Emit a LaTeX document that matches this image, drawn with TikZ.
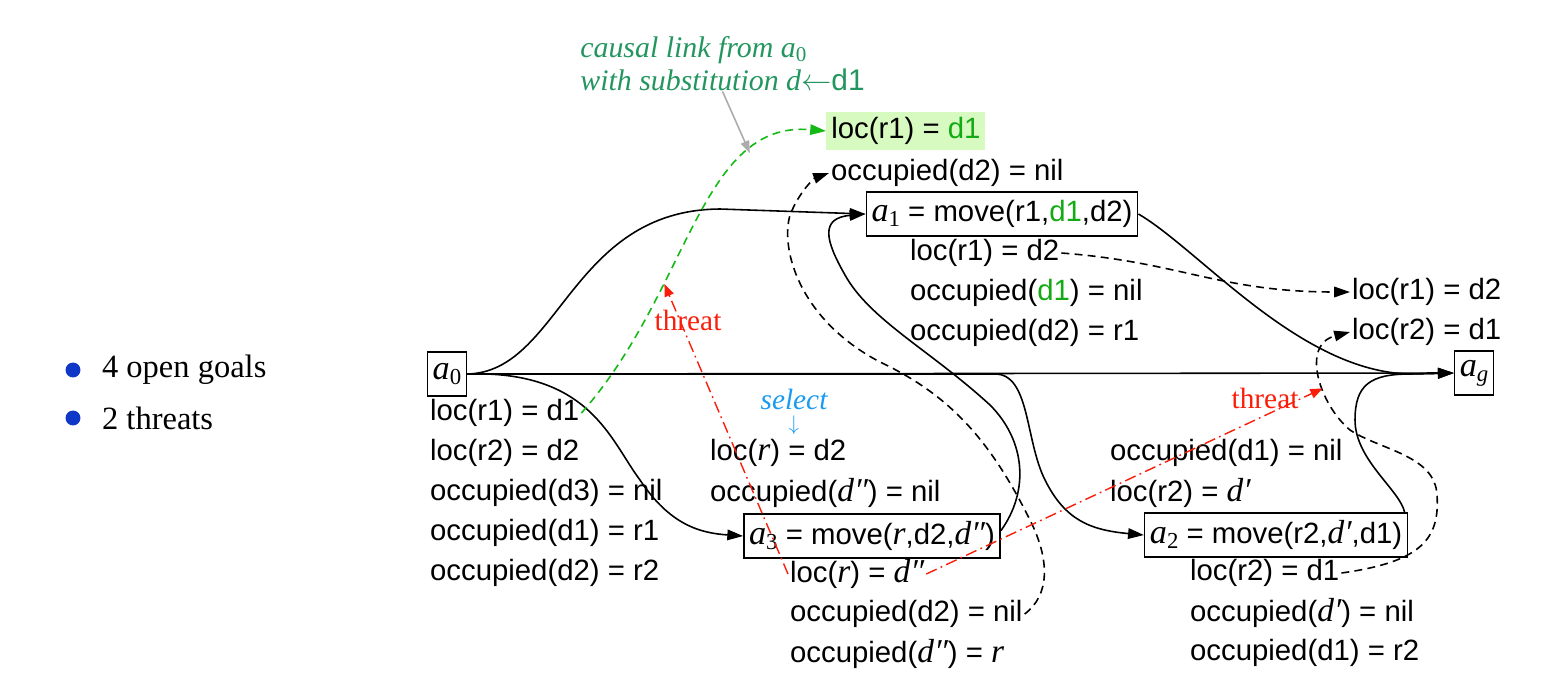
\documentclass[tikz,border=0pt]{standalone}
\usepackage{fontspec}
\setmainfont{Liberation Sans}
\newfontfamily\tms{Liberation Serif}
\usetikzlibrary{arrows.meta}
\definecolor{dgreen}{RGB}{20,170,20}
\definecolor{hlgreen}{RGB}{214,250,192}
\definecolor{cgreen}{RGB}{35,150,95}
\definecolor{lgreen}{RGB}{20,185,20}
\definecolor{tred}{RGB}{250,30,10}
\definecolor{sblue}{RGB}{25,155,240}
\definecolor{bblue}{RGB}{15,55,200}
\newcommand{\act}[1]{{\tms\itshape\fontsize{19.5}{20}\selectfont a%
    \raisebox{-0.3ex}{\fontsize{13}{13}\selectfont\upshape #1}}}
\newcommand{\vn}[1]{{\tms\itshape\fontsize{19}{20}\selectfont #1}}

\begin{document}
\begin{tikzpicture}[x=0.02cm,y=-0.02cm,
    fact/.style={anchor=west,inner sep=1pt},
    actbox/.style={draw,line width=0.8pt,inner sep=3pt,minimum height=25pt},
    arr/.style={line width=0.9pt,-{Triangle[length=9pt,width=6pt]}},
    dasharr/.style={arr,dash pattern=on 4.5pt off 3pt},
    linkarr/.style={dasharr,lgreen},
    threatarr/.style={tred,line width=0.8pt,dash pattern=on 6.5pt off 2.5pt on 1pt off 2.5pt,
        -{Triangle[length=7pt,width=5.5pt]}}]
\fontsize{16.7}{20}\selectfont
\useasboundingbox (0,0) rectangle (1550,691);
% Flaws of the plan
\foreach \t [count=\i] in {4 open goals, 2 threats}
{
        \node[circle,fill=bblue,inner sep=0pt,minimum size=8.5pt] (b\i) at (73,322+48*\i) {};
        \node[anchor=west,inner sep=1pt,font=\tms\fontsize{18.5}{22}\selectfont]
        (t\i) at (100,322+48*\i) {\t};
}
% Actions
\node[actbox,minimum width=22pt] (a0) at (447,374) {\act{0}};
\node[actbox,minimum width=22pt] (ag) at (1474,373) {\act{\itshape g}};
\node[actbox] (a1) at (1002,214) {\act{1} = move(r1,\textcolor{dgreen}{d1},d2)};
\node[actbox] (a3) at (872,536) {\act{3} = move(\vn{r},d2,\vn{d″})};
\node[actbox] (a2) at (1276,535) {\act{2} = move(r2,\vn{d′},d1)};
% Effects of a0
\foreach \t [count=\i] in {loc(r1) = d1, loc(r2) = d2, occupied(d3) = nil,
        occupied(d1) = r1, occupied(d2) = r2}
        \node[fact] (i\i) at (428,373+40*\i) {\t};
% Goals
\node[fact] (g1) at (1350,292) {loc(r1) = d2};
\node[fact] (g2) at (1350,332) {loc(r2) = d1};
% a1
\node[fact,fill=hlgreen,inner sep=2.8pt] (p1a) at (826,131) {loc(r1) = \textcolor{dgreen}{d1}};
\node[fact] (p1b) at (829,173) {occupied(d2) = nil};
\foreach \t [count=\i] in {loc(r1) = d2, occupied(\textcolor{dgreen}{d1}) = nil, occupied(d2) = r1}
        \node[fact] (e1-\i) at (908,213+40*\i) {\t};
% a3
\node[fact] (p3a) at (708,453) {loc(\vn{r}) = d2};
\node[fact] (p3b) at (708,493) {occupied(\vn{d″}) = nil};
\foreach \t [count=\i] in {loc(\vn{r}) = \vn{d″}, occupied(d2) = nil, occupied(\vn{d″}) = \vn{r}}
        \node[fact] (e3-\i) at (788,534+40*\i) {\t};
% a2
\node[fact] (p2a) at (1108,453) {occupied(d1) = nil};
\node[fact] (p2b) at (1108,493) {loc(r2) = \vn{d′}};
\foreach \t [count=\i] in {loc(r2) = d1, occupied(\vn{d′}) = nil, occupied(d1) = r2}
        \node[fact] (e2-\i) at (1188,533+40*\i) {\t};
% Notes
\node[anchor=north west,align=left,inner sep=0pt,text=cgreen,
        font=\tms\itshape\fontsize{17}{19}\selectfont] (causal) at (580,36)
        {causal link from a\smash{\raisebox{-0.3ex}{\fontsize{12}{12}\selectfont\upshape 0}}\\
        with substitution d$\leftarrow${\normalfont d1}};
\node[text=sblue,font=\tms\itshape,inner sep=0pt] (sel) at (794,399) {select};
\node[text=sblue,inner sep=0pt,font=\fontsize{13}{13}\selectfont] (selarr) at (794,425) {$\downarrow$};
\node[text=tred,font=\tms] (thA) at (688,320) {threat};
\node[text=tred,font=\tms] (thB) at (1265,398) {threat};
% Ordering and causal links
\draw[arr] (a0.east) .. controls (560,372) and (570,210) .. (720,209) -- (a1.west);
\draw[arr] (a0.east) -- (ag.west);
\draw[arr] (a0.east) .. controls (590,370) and (610,440) .. (640,480)
        .. controls (670,525) and (700,533) .. (a3.west);
\draw[arr] (a0.east) -- (995,374) .. controls (1030,374) and (1025,440) .. (1045,480)
        .. controls (1065,520) and (1090,530) .. (a2.west);
\draw[arr] (a1.east) .. controls (1200,250) and (1300,372) .. (1410,374) -- (ag.west);
\draw[arr] ([yshift=3pt]a3.east) .. controls (1030,490) and (1025,440) .. (990,405)
        .. controls (930,350) and (870,320) .. (845,275)
        .. controls (825,240) and (820,218) .. (a1.west);
\draw[arr] ([xshift=-2pt]a2.north east) .. controls (1400,490) and (1355,460) .. (1355,420)
        .. controls (1355,385) and (1370,374) .. (1410,374) -- (ag.west);
\draw[dasharr] (e3-2.east) .. controls (1050,595) and (1050,560) .. (1030,520)
        .. controls (990,440) and (950,395) .. (880,362)
        .. controls (800,320) and (780,250) .. (790,215)
        .. controls (800,190) and (815,178) .. (p1b.west);
\draw[dasharr] (e1-1.east) .. controls (1180,262) and (1220,292) .. (g1.west);
\draw[dasharr] (e2-1.east) .. controls (1420,562) and (1440,540) .. (1437,495)
        .. controls (1435,455) and (1380,450) .. (1350,430)
        .. controls (1320,405) and (1300,345) .. coordinate[pos=0.4] (tB) (g2.west);
\draw[linkarr] (i1.east) .. controls (690,290) and (700,120) ..
        coordinate[pos=0.33] (tA) coordinate[pos=0.75] (cl) (p1a.west);
\draw[gray!65,line width=0.9pt,-{Triangle[length=7pt,width=5pt]}] (causal.south) -- (cl);
% Threats
\draw[threatarr] (e3-1.west) -- (tA);
\draw[threatarr] (e3-1.east) -- (tB);
\end{tikzpicture}
\end{document}
